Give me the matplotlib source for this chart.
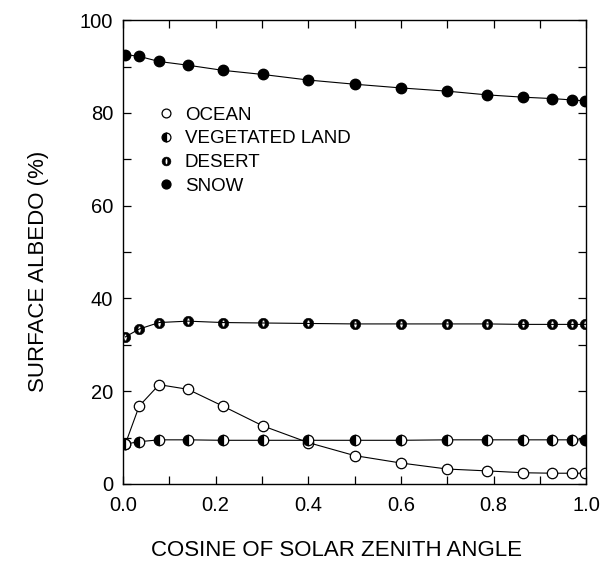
import numpy as np
import matplotlib.pyplot as plt
from matplotlib.path import Path
from matplotlib.ticker import MultipleLocator

plt.rcParams['font.family'] = ['Liberation Sans', 'DejaVu Sans']

# --- data ---
mu = [0.005, 0.035, 0.078, 0.14, 0.215, 0.302, 0.40, 0.50, 0.60,
      0.70, 0.786, 0.864, 0.927, 0.97, 0.998]

ocean = [8.6, 16.8, 21.4, 20.4, 16.8, 12.5, 8.9, 6.1, 4.5,
         3.2, 2.8, 2.4, 2.3, 2.3, 2.3]
vegetated = [8.6, 9.1, 9.5, 9.5, 9.4, 9.4, 9.4, 9.4, 9.4,
             9.5, 9.5, 9.5, 9.5, 9.5, 9.5]
desert = [31.7, 33.4, 34.8, 35.1, 34.8, 34.7, 34.6, 34.5, 34.5,
          34.5, 34.5, 34.4, 34.4, 34.4, 34.4]
snow = [92.6, 92.2, 91.1, 90.3, 89.2, 88.3, 87.1, 86.2, 85.4,
        84.7, 83.9, 83.4, 83.1, 82.8, 82.6]

labels = ['OCEAN', 'VEGETATED LAND', 'DESERT', 'SNOW']

# marker for desert: black disc with a white vertical slit
t = np.linspace(0, 2 * np.pi, 60)
outer = np.column_stack([np.cos(t), np.sin(t)])
inner = np.column_stack([0.3 * np.cos(t[::-1]), 0.65 * np.sin(t[::-1])])
desert_marker = Path.make_compound_path(Path(outer, closed=True), Path(inner, closed=True))

fig = plt.figure(figsize=(6.12, 5.62), dpi=100)
ax = fig.add_axes([0.201, 0.139, 0.757, 0.825])

lw = 0.8
ms = 7.5
ax.plot(mu, ocean, color='black', lw=lw, marker='o', ms=ms,
        mfc='white', mec='black', mew=0.9, label=labels[0])
ax.plot(mu, vegetated, color='black', lw=lw, marker='o', ms=ms,
        fillstyle='left', mfc='black', mfcalt='white', mec='black', mew=0.9,
        label=labels[1])
ax.plot(mu, desert, color='black', lw=lw, marker=desert_marker, ms=ms,
        mfc='black', mec='black', mew=0.4, label=labels[2])
ax.plot(mu, snow, color='black', lw=lw, marker='o', ms=ms,
        mfc='black', mec='black', label=labels[3])

ax.set_xlim(0, 1.0)
ax.set_ylim(0, 100)
ax.xaxis.set_minor_locator(MultipleLocator(0.1))
ax.yaxis.set_major_locator(MultipleLocator(20))
ax.yaxis.set_minor_locator(MultipleLocator(10))
ax.set_xticks([0.0, 0.2, 0.4, 0.6, 0.8, 1.0])
ax.set_xticklabels(['0.0', '0.2', '0.4', '0.6', '0.8', '1.0'])
ax.tick_params(which='both', direction='in', top=True, right=True,
               length=6, width=0.9, labelsize=14.5)
ax.tick_params(axis='x', pad=9)
ax.tick_params(axis='y', pad=7)
for s in ax.spines.values():
    s.set_linewidth(1.0)

ax.set_xlabel('COSINE OF SOLAR ZENITH ANGLE', fontsize=16)
ax.set_ylabel('SURFACE ALBEDO (%)', fontsize=16)
ax.xaxis.set_label_coords(0.46, -0.122)
ax.yaxis.set_label_coords(-0.16, 0.458)

leg = ax.legend(loc='upper left', bbox_to_anchor=(0.04, 0.85), frameon=False,
                fontsize=13.5, handlelength=0.8, handletextpad=0.6,
                labelspacing=0.35, numpoints=1, markerscale=0.85)
for h in leg.legend_handles:
    h.set_linestyle('none')

fig.savefig('out.png', dpi=100)
